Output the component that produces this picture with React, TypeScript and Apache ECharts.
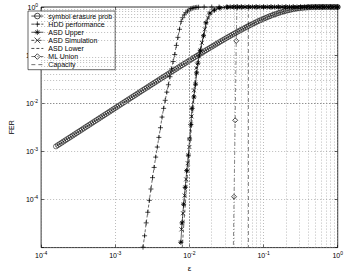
import React, { useEffect, useRef } from 'react';
import * as echarts from 'echarts';

// ---------- data ----------
const seriesNames = [
  'symbol erasure prob',
  'HDD performance',
  'ASD Upper',
  'ASD Simulation',
  'ASD Lower',
  'ML Union',
  'Capacity',
];

const xTickExponents = [-4, -3, -2, -1, 0];
const yTickExponents = [-5, -4, -3, -2, -1, 0];

const erasureX = [
  1.585e-4, 1.679e-4, 1.778e-4, 1.884e-4, 1.995e-4, 2.113e-4, 2.239e-4, 2.371e-4,
  2.512e-4, 2.661e-4, 2.818e-4, 2.985e-4, 3.162e-4, 3.35e-4, 3.548e-4, 3.758e-4,
  3.981e-4, 4.217e-4, 4.467e-4, 4.732e-4, 5.012e-4, 5.309e-4, 5.623e-4, 5.957e-4,
  6.31e-4, 6.683e-4, 7.079e-4, 7.499e-4, 7.943e-4, 8.414e-4, 8.913e-4, 9.441e-4,
  1.0e-3, 1.059e-3, 1.122e-3, 1.189e-3, 1.259e-3, 1.334e-3, 1.413e-3, 1.496e-3,
  1.585e-3, 1.679e-3, 1.778e-3, 1.884e-3, 1.995e-3, 2.113e-3, 2.239e-3, 2.371e-3,
  2.512e-3, 2.661e-3, 2.818e-3, 2.985e-3, 3.162e-3, 3.35e-3, 3.548e-3, 3.758e-3,
  3.981e-3, 4.217e-3, 4.467e-3, 4.732e-3, 5.012e-3, 5.309e-3, 5.623e-3, 5.957e-3,
  6.31e-3, 6.683e-3, 7.079e-3, 7.499e-3, 7.943e-3, 8.414e-3, 8.913e-3, 9.441e-3,
  1.0e-2, 1.059e-2, 1.122e-2, 1.189e-2, 1.259e-2, 1.334e-2, 1.413e-2, 1.496e-2,
  1.585e-2, 1.679e-2, 1.778e-2, 1.884e-2, 1.995e-2, 2.113e-2, 2.239e-2, 2.371e-2,
  2.512e-2, 2.661e-2, 2.818e-2, 2.985e-2, 3.162e-2, 3.35e-2, 3.548e-2, 3.758e-2,
  3.981e-2, 4.217e-2, 4.467e-2, 4.732e-2, 5.012e-2, 5.309e-2, 5.623e-2, 5.957e-2,
  6.31e-2, 6.683e-2, 7.079e-2, 7.499e-2, 7.943e-2, 8.414e-2, 8.913e-2, 9.441e-2,
  1.0e-1, 1.059e-1, 1.122e-1, 1.189e-1, 1.259e-1, 1.334e-1, 1.413e-1, 1.496e-1,
  1.585e-1, 1.679e-1, 1.778e-1, 1.884e-1, 1.995e-1, 2.113e-1, 2.239e-1, 2.371e-1,
  2.512e-1, 2.661e-1, 2.818e-1, 2.985e-1, 3.162e-1, 3.35e-1, 3.548e-1, 3.758e-1,
  3.981e-1, 4.217e-1, 4.467e-1, 4.732e-1, 5.012e-1, 5.309e-1, 5.623e-1, 5.957e-1,
  6.31e-1, 6.683e-1, 7.079e-1, 7.499e-1, 7.943e-1, 8.414e-1, 8.913e-1, 9.441e-1,
  1.0,
];
const erasureY = [
  1.267e-3, 1.343e-3, 1.422e-3, 1.507e-3, 1.595e-3, 1.69e-3, 1.79e-3, 1.896e-3,
  2.008e-3, 2.127e-3, 2.252e-3, 2.385e-3, 2.527e-3, 2.677e-3, 2.835e-3, 3.002e-3,
  3.18e-3, 3.369e-3, 3.568e-3, 3.779e-3, 4.003e-3, 4.239e-3, 4.489e-3, 4.756e-3,
  5.037e-3, 5.334e-3, 5.649e-3, 5.983e-3, 6.337e-3, 6.711e-3, 7.108e-3, 7.528e-3,
  7.972e-3, 8.441e-3, 8.941e-3, 9.472e-3, 1.003e-2, 1.062e-2, 1.125e-2, 1.191e-2,
  1.261e-2, 1.335e-2, 1.414e-2, 1.497e-2, 1.585e-2, 1.678e-2, 1.777e-2, 1.881e-2,
  1.992e-2, 2.109e-2, 2.232e-2, 2.363e-2, 2.502e-2, 2.649e-2, 2.803e-2, 2.967e-2,
  3.141e-2, 3.324e-2, 3.518e-2, 3.723e-2, 3.94e-2, 4.169e-2, 4.411e-2, 4.667e-2,
  4.938e-2, 5.223e-2, 5.525e-2, 5.844e-2, 6.181e-2, 6.537e-2, 6.91e-2, 7.308e-2,
  0.0773, 0.08164, 0.0863, 0.09125, 0.0964, 0.1019, 0.1076, 0.1136,
  0.12, 0.1267, 0.1337, 0.1412, 0.1489, 0.1571, 0.1657, 0.1747,
  0.1842, 0.1941, 0.2044, 0.2153, 0.2267, 0.2386, 0.251, 0.2639,
  0.2775, 0.2916, 0.3062, 0.3215, 0.3372, 0.3537, 0.3706, 0.3882,
  0.4063, 0.425, 0.4442, 0.464, 0.4842, 0.505, 0.5262, 0.5477,
  0.5695, 0.5916, 0.6141, 0.6368, 0.6592, 0.6819, 0.7044, 0.7265,
  0.7485, 0.7702, 0.7911, 0.8118, 0.8314, 0.8503, 0.8684, 0.8853,
  0.9012, 0.9158, 0.9292, 0.9413, 0.9522, 0.9618, 0.97, 0.977,
  0.9828, 0.9875, 0.9912, 0.9941, 0.9962, 0.9977, 0.9987, 0.9993,
  0.9997, 0.9999, 0.99995, 1.0, 1.0, 1.0, 1.0, 1.0,
  1.0,
];

const hddX = [
  2.366e-3, 2.486e-3, 2.611e-3, 2.743e-3, 2.881e-3, 3.027e-3, 3.179e-3, 3.34e-3,
  3.508e-3, 3.686e-3, 3.873e-3, 4.068e-3, 4.273e-3, 4.489e-3, 4.716e-3, 4.955e-3,
  5.205e-3, 5.468e-3, 5.744e-3, 6.034e-3, 6.339e-3, 6.659e-3, 6.996e-3, 7.349e-3,
  7.721e-3, 8.11e-3, 8.52e-3, 8.95e-3, 9.4e-3, 9.88e-3, 1.038e-2, 1.09e-2,
  1.145e-2, 1.2e-2, 1.26e-2, 1.33e-2,
  0.0158, 0.02, 0.0251, 0.0316, 0.0398, 0.0501, 0.0631, 0.0794, 0.1, 0.126,
  0.158, 0.2, 0.251, 0.316, 0.398, 0.501, 0.631, 0.794, 1.0,
];
const hddY = [
  1.02e-5, 1.76e-5, 3.26e-5, 5.42e-5, 9.6e-5, 1.65e-4, 2.84e-4, 4.63e-4,
  7.6e-4, 1.23e-3, 1.95e-3, 3.1e-3, 5.16e-3, 7.82e-3, 1.15e-2, 1.7e-2,
  2.42e-2, 3.56e-2, 5.16e-2, 7.37e-2, 0.103, 0.159, 0.234, 0.344,
  0.499, 0.6, 0.69, 0.76, 0.82, 0.87, 0.91, 0.94,
  0.96, 0.975, 0.985, 0.99,
  1, 1, 1, 1, 1, 1, 1, 1, 1, 1,
  1, 1, 1, 1, 1, 1, 1, 1, 1,
];

const asdUpperX = [
  7.66e-3, 7.96e-3, 8.36e-3, 8.77e-3, 9.2e-3, 9.68e-3, 1.005e-2, 1.045e-2,
  1.085e-2, 1.15e-2, 1.21e-2, 1.25e-2, 1.3e-2, 1.4e-2, 1.55e-2, 1.67e-2,
  1.88e-2, 2.18e-2, 2.58e-2, 3.26e-2,
  0.0355, 0.0398, 0.0447, 0.0501, 0.0562, 0.0631, 0.0708, 0.0794, 0.0891, 0.1,
  0.112, 0.126, 0.141, 0.158, 0.178, 0.2, 0.224, 0.251, 0.282, 0.316,
  0.355, 0.398, 0.447, 0.501, 0.562, 0.631, 0.708, 0.794, 0.891, 1.0,
];
const asdUpperY = [
  1.29e-5, 3.26e-5, 7.97e-5, 1.79e-4, 3.98e-4, 8.35e-4, 1.81e-3, 3.62e-3,
  7.82e-3, 1.35e-2, 2.49e-2, 4.28e-2, 6.81e-2, 0.126, 0.253, 0.47,
  0.747, 0.871, 0.955, 0.99,
  1, 1, 1, 1, 1, 1, 1, 1, 1, 1,
  1, 1, 1, 1, 1, 1, 1, 1, 1, 1,
  1, 1, 1, 1, 1, 1, 1, 1, 1, 1,
];

const asdSimX = [
  7.8e-3, 8.18e-3, 8.61e-3, 9.02e-3, 9.48e-3, 9.98e-3, 1.067e-2, 1.148e-2,
  1.236e-2, 1.35e-2, 1.47e-2, 1.61e-2, 1.78e-2, 2.04e-2, 2.43e-2, 3.07e-2,
  0.0398, 0.0501, 0.0631, 0.0794, 0.1, 0.126, 0.158, 0.2, 0.251, 0.316,
  0.398, 0.501, 0.631, 0.794, 1.0,
];
const asdSimY = [
  2.39e-5, 5.18e-5, 1.21e-4, 2.62e-4, 5.68e-4, 1.23e-3, 5.33e-3, 1.86e-2,
  5.4e-2, 9.42e-2, 0.18, 0.344, 0.601, 0.831, 0.94, 0.98,
  1, 1, 1, 1, 1, 1, 1, 1, 1, 1,
  1, 1, 1, 1, 1,
];

const asdLowerX = [
  8.0e-3, 8.4e-3, 8.9e-3, 9.4e-3, 1.0e-2, 1.07e-2, 1.14e-2, 1.22e-2, 1.32e-2,
  1.45e-2, 1.6e-2, 1.8e-2, 2.1e-2, 2.5e-2, 3.2e-2, 0.05, 1.0,
];
const asdLowerY = [
  1.0e-5, 3.0e-5, 1.0e-4, 3.0e-4, 1.0e-3, 3.5e-3, 1.1e-2, 3.2e-2, 7.5e-2,
  0.15, 0.3, 0.56, 0.82, 0.94, 0.985, 1, 1,
];

const mlX = [0.0437, 0.0428, 0.0414, 0.04, 0.0387];
const mlY = [1.0, 0.198, 4.42e-3, 1.14e-4, 2.9e-6];

const capX = [0.0625, 0.0625];
const capY = [1.0, 1.0e-5];

// ---------- helpers ----------
const pair = (xs: number[], ys: number[]) => xs.map((x, i) => [x, ys[i]]);
const minorMult = [2, 3, 4, 5, 6, 7, 8, 9];
const minorValues = (exps: number[]) => {
  const out: number[] = [];
  exps.slice(0, -1).forEach((e) => minorMult.forEach((m) => out.push(m * Math.pow(10, e))));
  return out;
};

const FONT = 'Liberation Sans, Arial, Helvetica, sans-serif';
const SYM_CIRCLE = 'path://M0,5A5,5 0 1,1 10,5A5,5 0 1,1 0,5Z';
const SYM_PLUS = 'path://M5,0L5,10M0,5L10,5';
const SYM_STAR = 'path://M5,0L5,10M0,5L10,5M1.5,1.5L8.5,8.5M8.5,1.5L1.5,8.5';
const SYM_X = 'path://M0,0L10,10M10,0L0,10';
const SYM_DIAMOND = 'path://M5,0L10,5L5,10L0,5Z';

const gridLine = { color: '#8f8f8f', type: [1, 2], width: 0.6 };

const labelFormatter = (v: number) => {
  const e = Math.round(Math.log10(v));
  if (e === -5) return '';
  return `{b|10}{s|${e}}`;
};
const labelRich = {
  b: { fontSize: 7, fontFamily: FONT, color: '#000' },
  s: { fontSize: 5, fontFamily: FONT, color: '#000', padding: [0, 0, 5, 0] },
};

const itemStyle = { color: 'rgba(0,0,0,0)', borderColor: '#000', borderWidth: 0.7 };

export default function App() {
  const ref = useRef<HTMLDivElement>(null);
  useEffect(() => {
    if (!ref.current) return;
    const chart = echarts.init(ref.current, null, { renderer: 'svg' });
    const xMin = Math.pow(10, xTickExponents[0]);
    const xMax = Math.pow(10, xTickExponents[xTickExponents.length - 1]);
    const yMin = Math.pow(10, yTickExponents[0]);
    const yMax = Math.pow(10, yTickExponents[yTickExponents.length - 1]);
    const tick = { show: true, inside: true, length: 3, lineStyle: { color: '#000', width: 0.6 } };

    const option: any = {
      animation: false,
      backgroundColor: '#fff',
      textStyle: { fontFamily: FONT },
      grid: {
        left: 25, right: 7.5, top: 7, bottom: 21.5,
        show: true, borderColor: '#000', borderWidth: 0.8, backgroundColor: 'transparent',
      },
      legend: {
        orient: 'vertical', left: 28, top: 11,
        padding: [1, 3, 1, 3], itemGap: 0, itemWidth: 12, itemHeight: 7,
        backgroundColor: '#fff', borderColor: '#000', borderWidth: 0.6,
        selectedMode: false,
        textStyle: { fontSize: 7, fontFamily: FONT, color: '#000', lineHeight: 8.1 },
        itemStyle: { borderWidth: 0.7 },
        lineStyle: { width: 0.7 },
        data: seriesNames.map((n) =>
          n === 'ASD Lower' || n === 'Capacity' ? { name: n, itemStyle: { opacity: 0 } } : { name: n }
        ),
      },
      xAxis: [
        {
          type: 'log', logBase: 10, min: xMin, max: xMax, position: 'bottom',
          name: 'ε', nameLocation: 'middle', nameGap: 13,
          nameTextStyle: { fontSize: 8, fontFamily: FONT, color: '#000' },
          axisLine: { show: false }, axisTick: tick,
          axisLabel: { formatter: labelFormatter, rich: labelRich, margin: 3 },
          splitLine: { show: true, lineStyle: gridLine },
        },
        {
          type: 'log', logBase: 10, min: xMin, max: xMax, position: 'top',
          axisLine: { show: false }, axisTick: tick, axisLabel: { show: false },
          splitLine: { show: false },
        },
      ],
      yAxis: [
        {
          type: 'log', logBase: 10, min: yMin, max: yMax, position: 'left',
          name: 'FER', nameLocation: 'middle', nameGap: 15, nameRotate: 90,
          nameTextStyle: { fontSize: 7, fontFamily: FONT, color: '#000' },
          axisLine: { show: false }, axisTick: tick,
          axisLabel: { formatter: labelFormatter, rich: labelRich, margin: 3 },
          splitLine: { show: true, lineStyle: gridLine },
        },
        {
          type: 'log', logBase: 10, min: yMin, max: yMax, position: 'right',
          axisLine: { show: false }, axisTick: tick, axisLabel: { show: false },
          splitLine: { show: false },
        },
      ],
      series: [
        {
          name: '_minorgrid', type: 'line', data: [], silent: true, z: 1,
          markLine: {
            silent: true, symbol: ['none', 'none'], label: { show: false },
            lineStyle: gridLine, emphasis: { disabled: true },
            data: [
              ...minorValues(xTickExponents).map((v) => ({ xAxis: v })),
              ...minorValues(yTickExponents).map((v) => ({ yAxis: v })),
            ],
          },
        },
        {
          name: seriesNames[0], type: 'line', data: pair(erasureX, erasureY), silent: true,
          symbol: SYM_CIRCLE, symbolSize: 5, itemStyle: { ...itemStyle, borderWidth: 0.55 },
          lineStyle: { color: '#000', width: 0.6 },
        },
        {
          name: seriesNames[1], type: 'line', data: pair(hddX, hddY), silent: true,
          symbol: SYM_PLUS, symbolSize: 5, itemStyle,
          lineStyle: { color: '#000', width: 0.6, type: [3, 2] },
        },
        {
          name: seriesNames[2], type: 'line', data: pair(asdUpperX, asdUpperY), silent: true,
          symbol: SYM_STAR, symbolSize: 5, itemStyle: { ...itemStyle, borderWidth: 0.9 },
          lineStyle: { color: '#000', width: 0.6 },
        },
        {
          name: seriesNames[3], type: 'line', data: pair(asdSimX, asdSimY), silent: true,
          symbol: SYM_X, symbolSize: 4, itemStyle,
          lineStyle: { color: '#000', width: 0.6, type: [3, 1.5, 1, 1.5] },
        },
        {
          name: seriesNames[4], type: 'line', data: pair(asdLowerX, asdLowerY), silent: true,
          symbol: 'none', itemStyle,
          lineStyle: { color: '#000', width: 0.6, type: [3, 2] },
        },
        {
          name: seriesNames[5], type: 'line', data: pair(mlX, mlY), silent: true,
          symbol: SYM_DIAMOND, symbolSize: 5, itemStyle,
          lineStyle: { color: '#333', width: 0.6, type: [4, 2, 1, 2] },
        },
        {
          name: seriesNames[6], type: 'line', data: pair(capX, capY), silent: true,
          symbol: 'none', itemStyle,
          lineStyle: { color: '#333', width: 0.6, type: [4, 3] },
        },
      ],
    };
    chart.setOption(option);
    return () => chart.dispose();
  }, []);

  return (
    <div
      ref={ref}
      style={{ position: 'fixed', left: 0, top: 0, width: 346, height: 277, background: '#fff' }}
    />
  );
}
